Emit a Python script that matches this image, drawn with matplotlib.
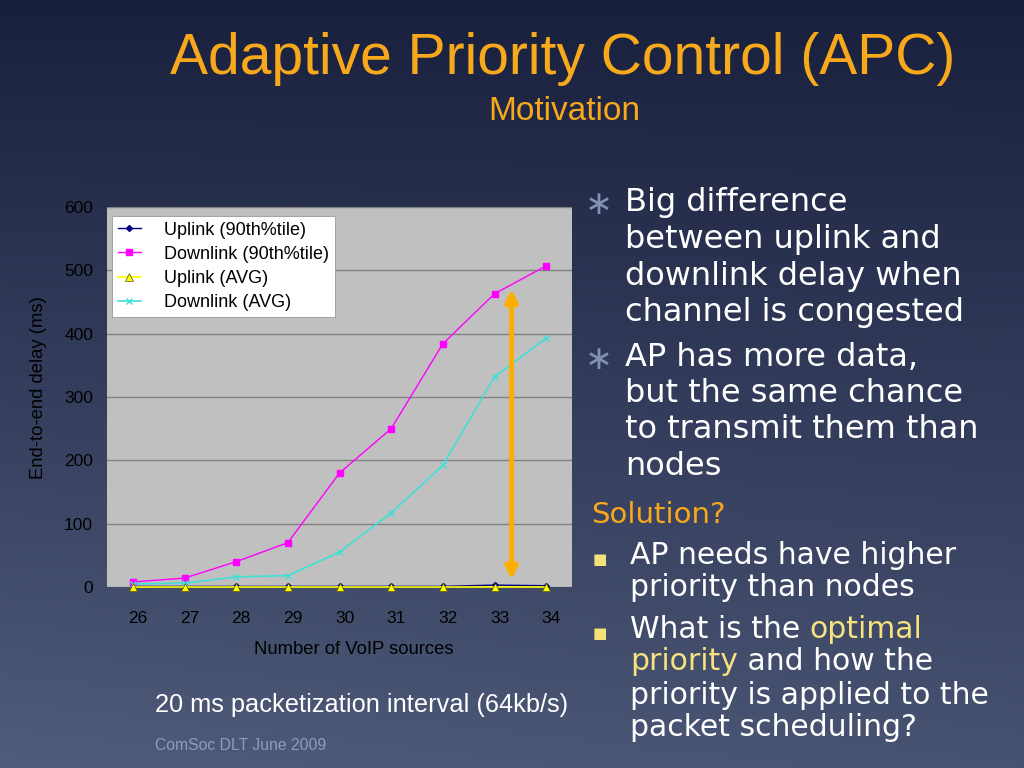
import numpy as np
import matplotlib.pyplot as plt
from matplotlib.transforms import ScaledTranslation

# data
sources = ['26', '27', '28', '29', '30', '31', '32', '33', '34']
uplink_90 = [1, 1, 1, 1, 1, 1, 1, 3, 2]
downlink_90 = [8, 14, 40, 70, 180, 250, 384, 463, 507]
uplink_avg = [0, 0, 0, 0, 0, 0, 0, 0, 0]
downlink_avg = [5, 6, 16, 18, 55, 117, 192, 332, 393]
yticks = [0, 100, 200, 300, 400, 500, 600]

W, H = 1024, 768
fig = plt.figure(figsize=(W / 100, H / 100), dpi=100)

# slide background gradient (dark navy top, lighter slate bottom)
bg = fig.add_axes([0, 0, 1, 1])
yy, xx = np.mgrid[0:1:200j, 0:1:200j]
t = np.clip(0.85 * yy + 0.15 * (1 - xx) * yy, 0, 1)
top = np.array([0x19, 0x20, 0x3e]) / 255
bot = np.array([0x50, 0x5c, 0x7a]) / 255
img = top[None, None, :] * (1 - t[..., None]) + bot[None, None, :] * t[..., None]
bg.imshow(img, extent=[0, 1, 0, 1], aspect='auto', origin='upper')
bg.set_xlim(0, 1)
bg.set_ylim(0, 1)
bg.axis('off')

def fx(px):
    return px / W

def fy(py):
    return 1 - py / H

orange = '#f7a81b'
fig.text(fx(563), fy(59), 'Adaptive Priority Control (APC)', color=orange,
         fontsize=41, family='Liberation Sans', ha='center', va='center')
fig.text(fx(564), fy(112), 'Motivation', color=orange,
         fontsize=24, family='Liberation Sans', ha='center', va='center')

# chart
ax = fig.add_axes([fx(107), fy(587), fx(572) - fx(107), (587 - 207) / H])
ax.set_facecolor('#c0c0c0')
x = np.arange(len(sources))
ax.plot(x, uplink_90, color='#000080', marker='D', ms=3, lw=1,
        label='Uplink (90th%tile)', clip_on=False, zorder=4)
ax.plot(x, downlink_90, color='#ff00ff', marker='s', ms=4, lw=1,
        label='Downlink (90th%tile)', clip_on=False, zorder=4)
ax.plot(x, uplink_avg, color='#ffff00', marker='^', ms=6, mec='#555500',
        mew=0.5, lw=1.2, label='Uplink (AVG)', clip_on=False, zorder=5)
ax.plot(x, downlink_avg, color='#40e0d8', marker='x', ms=4, lw=1.2,
        label='Downlink (AVG)', clip_on=False, zorder=4)
ax.set_xlim(-0.5, len(sources) - 0.5)
ax.set_ylim(0, 600)
ax.set_yticks(yticks)
ax.set_xticks(x)
ax.set_xticklabels(sources)
ax.grid(axis='y', color='#808080', lw=1)
ax.set_axisbelow(True)
for s in ax.spines.values():
    s.set_visible(False)
ax.tick_params(axis='both', length=0, labelsize=12.5, labelcolor='black')
ax.tick_params(axis='x', pad=17)
ax.tick_params(axis='y', pad=10)
for lab in ax.get_xticklabels() + ax.get_yticklabels():
    lab.set_family('Liberation Sans')
# the x tick labels sit a little right of the category centres on the slide
shift = ScaledTranslation(5 / 100, 0, fig.dpi_scale_trans)
for lab in ax.get_xticklabels():
    lab.set_transform(lab.get_transform() + shift)
ax.set_xlabel('Number of VoIP sources', fontsize=13.3, family='Liberation Sans',
              labelpad=11)
ax.set_ylabel('End-to-end delay (ms)', fontsize=13.3, family='Liberation Sans',
              labelpad=12)
ax.xaxis.label.set_x(0.531)
ax.yaxis.label.set_y(0.524)
leg = ax.legend(loc='upper left', bbox_to_anchor=(0.011, 0.976),
                prop={'family': 'Liberation Sans', 'size': 13},
                frameon=True, fancybox=False, framealpha=1, edgecolor='#999999',
                borderpad=0.3, labelspacing=0.4, handlelength=1.3,
                handletextpad=1.3, borderaxespad=0)
leg.get_frame().set_linewidth(0.6)

# orange double arrow between the two downlink curves
ax.annotate('', xy=(7.33, 470), xytext=(7.33, 12),
            arrowprops=dict(arrowstyle='<|-|>', color='#ffae00', lw=3.5,
                            mutation_scale=18, shrinkA=0, shrinkB=0),
            zorder=6)

# right-hand bullet text
white = 'white'
body_font = ['DejaVu Sans']
lines1 = ['Big difference', 'between uplink and', 'downlink delay when',
          'channel is congested']
lines2 = ['AP has more data,', 'but the same chance', 'to transmit them than',
          'nodes']
y0 = 203
for i, ln in enumerate(lines1):
    fig.text(fx(625), fy(y0 + i * 36.5), ln, color=white, fontsize=23,
             family=body_font, va='center')
fig.text(fx(599), fy(y0 + 2), '\u2217', color='#8292b5', fontsize=24,
         family='DejaVu Sans', ha='center', va='center')
y1 = 357
for i, ln in enumerate(lines2):
    fig.text(fx(625), fy(y1 + i * 36.5), ln, color=white, fontsize=23,
             family=body_font, va='center')
fig.text(fx(599), fy(y1 + 2), '\u2217', color='#8292b5', fontsize=24,
         family='DejaVu Sans', ha='center', va='center')

sol_font = ['DejaVu Sans']
fig.text(fx(591), fy(515), 'Solution?', color=orange, fontsize=21,
         family=sol_font, va='center')
yellow_sq = '#f3e27a'
for by in (560, 633):
    fig.text(fx(600), fy(by), '\u25a0', color=yellow_sq, fontsize=11,
             family='DejaVu Sans', ha='center', va='center')

fig.canvas.draw()
renderer = fig.canvas.get_renderer()

def line_parts(px, py, parts):
    cur = px
    for txt, col in parts:
        t = fig.text(fx(cur), fy(py), txt, color=col, fontsize=21.5,
                     family=sol_font, va='center')
        bb = t.get_window_extent(renderer)
        cur += bb.width

hl = '#f6e27e'
line_parts(630, 556, [('AP needs have higher', white)])
line_parts(630, 588, [('priority than nodes', white)])
line_parts(630, 629, [('What is the ', white), ('optimal', hl)])
line_parts(630, 662, [('priority', hl), (' and how the', white)])
line_parts(630, 695, [('priority is applied to the', white)])
line_parts(630, 727, [('packet scheduling?', white)])

fig.text(fx(155), fy(705), '20 ms packetization interval (64kb/s)', color=white,
         fontsize=18.3, family='Liberation Sans', va='center')
fig.text(fx(155), fy(745), 'ComSoc DLT June 2009', color='#8e9cc0',
         fontsize=11.3, family='Liberation Sans', va='center')

fig.savefig('out.png', dpi=100)
